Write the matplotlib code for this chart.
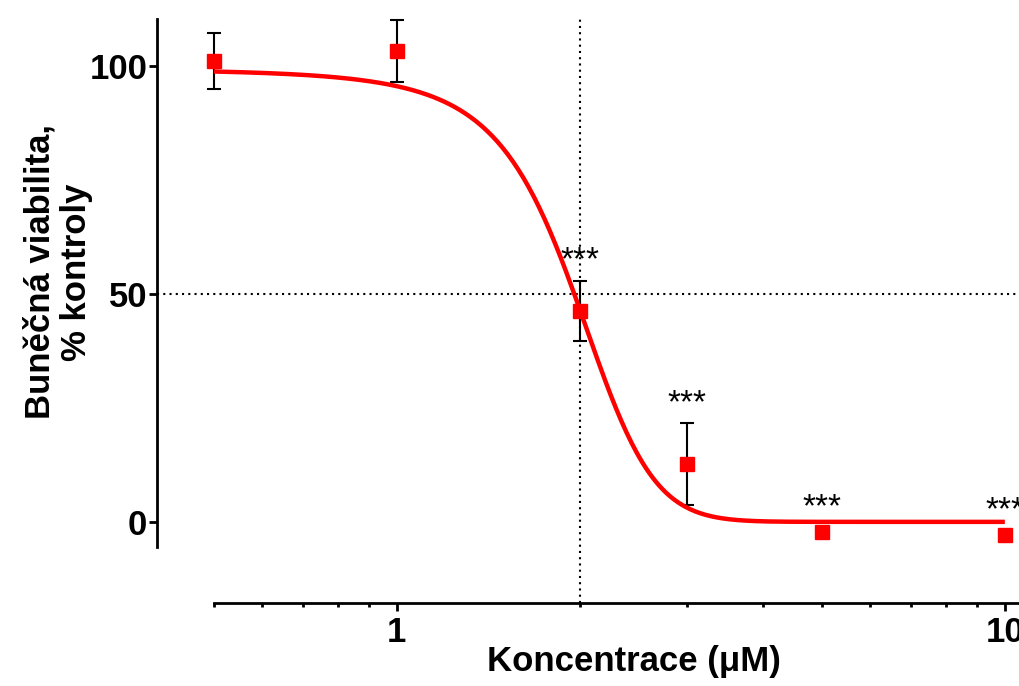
import numpy as np
import matplotlib
matplotlib.use("Agg")
import matplotlib.pyplot as plt
from matplotlib.ticker import FixedLocator, NullFormatter

plt.rcParams['font.family'] = ['Liberation Sans', 'DejaVu Sans']

# Measured data (concentration in uM, viability in % of control)
conc = [0.5, 1, 2, 3, 5, 10]
viability = [101.1, 103.3, 46.3, 12.7, -2.2, -2.9]
sem = [6.1, 6.8, 6.6, 8.9, 1.0, 1.0]
signif = ["", "", "***", "***", "***", "***"]

# Fitted sigmoid parameters
fit_top = 99.6
fit_bottom = 0.0
fit_mid = 1.96
fit_rate = 3.3
ic50 = 2.0

fig = plt.figure(figsize=(10.19, 6.86), dpi=100)
ax = fig.add_axes([157 / 1019, 83 / 686, 873 / 1019, 588 / 686])

ax.set_xscale('log')
ax.set_xlim(0.403, 11.0)
ax.set_ylim(-17.8, 111.2)

# reference lines at IC50 / 50 %
ax.axhline(50, color='black', lw=1.5, ls=(0, (1, 2)), zorder=1)
ax.plot([ic50, ic50], [-17.8, 110.3], color='black', lw=1.5, ls=(0, (1, 2)), zorder=1)

# error bars
ax.errorbar(conc, viability, yerr=sem, fmt='none', ecolor='black',
            elinewidth=1.5, capsize=5, capthick=1.5, zorder=2)

# fitted curve
xs = np.logspace(np.log10(conc[0]), np.log10(conc[-1]), 300)
ys = fit_bottom + (fit_top - fit_bottom) / (1 + np.exp(fit_rate * (xs - fit_mid)))
ax.plot(xs, ys, color='#ff0000', lw=3.2, zorder=3, solid_capstyle='butt')

# data points
ax.plot(conc, viability, 's', color='#ff0000', markersize=10, zorder=4)

# significance stars
for x, y, e, s in zip(conc, viability, sem, signif):
    if s:
        ax.text(x, max(y + e, y) + 1.0, s, ha='center', va='bottom',
                fontsize=24, color='black', zorder=5)

# prism-like offset axes
for side in ['top', 'right']:
    ax.spines[side].set_visible(False)
ax.spines['left'].set_linewidth(2.0)
ax.spines['bottom'].set_linewidth(2.0)
ax.spines['left'].set_bounds(-5.5, 110.3)
ax.spines['bottom'].set_bounds(0.5, 11.0)

ax.yaxis.set_major_locator(FixedLocator([0, 50, 100]))
ax.xaxis.set_major_locator(FixedLocator([1, 10]))
ax.xaxis.set_minor_locator(FixedLocator([0.5, 0.6, 0.7, 0.8, 0.9, 2, 3, 4, 5, 6, 7, 8, 9]))
ax.xaxis.set_minor_formatter(NullFormatter())
ax.set_xticklabels(['1', '10'])
ax.tick_params(axis='both', which='major', length=6, width=2, labelsize=25)
ax.tick_params(axis='y', which='major', pad=1)
ax.tick_params(axis='x', which='major', pad=3)
ax.tick_params(axis='x', which='minor', length=3, width=2)
for lab in ax.get_xticklabels() + ax.get_yticklabels():
    lab.set_fontweight('bold')

ax.set_xlabel('Koncentrace (μM)', fontsize=25, fontweight='bold')
ax.xaxis.set_label_coords(0.546, -0.072)
ax.set_ylabel('Buněčná viabilita,\n% kontroly', fontsize=25, fontweight='bold',
              linespacing=1.15)
ax.yaxis.set_label_coords(-0.073, 0.563)

fig.savefig('out.png', dpi=100)
